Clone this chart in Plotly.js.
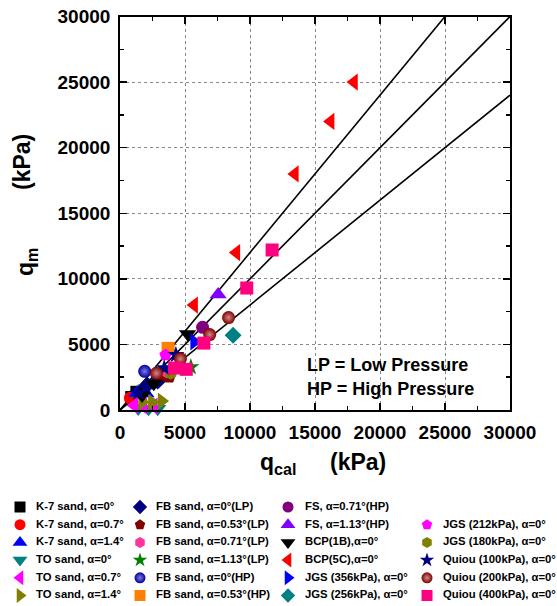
<!DOCTYPE html>
<html><head><meta charset="utf-8">
<script src="https://cdn.plot.ly/plotly-3.0.1.min.js"></script>
<style>html,body{margin:0;padding:0;background:#fff}#c{width:557px;height:606px}</style>
</head><body><div id="c"></div>
<script>
const seriesNames = [
 "K-7 sand, α=0°","K-7 sand, α=0.7°","K-7 sand, α=1.4°","TO sand, α=0°","TO sand, α=0.7°","TO sand, α=1.4°",
 "FB sand, α=0°(LP)","FB sand, α=0.53°(LP)","FB sand, α=0.71°(LP)","FB sand, α=1.13°(LP)","FB sand, α=0°(HP)","FB sand, α=0.53°(HP)",
 "FS, α=0.71°(HP)","FS, α=1.13°(HP)","BCP(1B),α=0°","BCP(5C),α=0°","JGS (356kPa), α=0°","JGS (256kPa), α=0°",
 "JGS (212kPa), α=0°","JGS (180kPa), α=0°","Quiou (100kPa), α=0°","Quiou (200kPa), α=0°","Quiou (400kPa), α=0°"];
const seriesSymbols = ["square","circle","triangle-up","triangle-down","triangle-left","triangle-right",
 "diamond","pentagon","hexagon","star","circle","square",
 "circle","triangle-up","triangle-down","triangle-left","triangle-right","diamond",
 "pentagon","hexagon","star","circle","square"];
const seriesColors = ["#000000","#FF0000","#0000FF","#008080","#FF00FF","#808000",
 "#000080","#800000","#FF3399","#008000","#000099","#FF8000",
 "#800080","#8000FF","#000000","#FF0000","#0000FF","#008080",
 "#FF00FF","#808000","#000080","#800000","#FF0080"];
const sphereSeries = [10, 21];
const seriesX = [
 [900,1300],[800],[1300,2000],[1400,2200,2900],[1100,1800,2600],[1700,2450,3200],
 [2100,2900],[3300,3800],[3600,4900],[5450],[1900],[3700],
 [6350],[7550],[1700,2600,5200],[5700,8950,13450,16200,18000],[5700],[8700],
 [3500],[3900],[1400,3400,4300],[2800,4650,6900,8350],[4200,5100,6450,9750,11700]];
const seriesY = [
 [950,1350],[900],[1300,1250],[120,100,100],[350,300,300],[600,600,680],
 [1900,2200],[2600,2500],[2900,3150],[3270],[2950],[4700],
 [6300],[8800],[1100,2000,5800],[8000,12000,18000,22000,25000],[5200],[5700],
 [4200],[2800],[1300,3200,4200],[2800,3900,5750,7050],[3200,3100,5100,9300,12200]];
const refSlopes = [1.2, 1.0, 0.8];
const axisMax = 30000;
const tickVals = [0,5000,10000,15000,20000,25000,30000];
const tickText = ["0","5000","10000","15000","20000","25000","30000"];

const W=557,H=606, L=120,R=510,T=16.5,B=410;
const FONT="Liberation Sans, Arial, sans-serif";
const traces=[];
refSlopes.forEach(s=>{
  const xe=Math.min(axisMax, axisMax/s);
  traces.push({x:[0,xe],y:[0,s*xe],mode:"lines",line:{color:"#000",width:1.6},showlegend:false,hoverinfo:"skip",cliponaxis:false});
});
function mk(i,size){
  const m={symbol:seriesSymbols[i],color:seriesColors[i],size:size,line:{width:0}};
  if(seriesSymbols[i].startsWith("triangle")) m.size=size+2;
  if(i===21) m.gradient={type:"radial",color:"#d08a8a"};
  if(i===10) m.gradient={type:"radial",color:"#7a7ae6"};
  return m;
}
seriesNames.forEach((n,i)=>{
  traces.push({x:seriesX[i],y:seriesY[i],mode:"markers",name:n,marker:mk(i,13),cliponaxis:false,showlegend:false});
});
// custom legend on pixel-mapped axes
const colMarkX=[20,140,288,427], colTextX=[36,156,305,443];
const rowY0=507, rowStep=17.7;
const lt=[],tx=[],ty=[];
seriesNames.forEach((n,i)=>{
  let col,row;
  if(i<18){col=Math.floor(i/6);row=i%6;} else {col=3;row=i-18+1;}
  const y=rowY0+row*rowStep;
  traces.push({x:[colMarkX[col]],y:[y],xaxis:"x2",yaxis:"y2",mode:"markers",marker:mk(i,11),showlegend:false,hoverinfo:"skip",cliponaxis:false});
  tx.push(colTextX[col]);ty.push(y);lt.push(n);
});
traces.push({x:tx,y:ty,text:lt,mode:"text",textposition:"middle right",xaxis:"x2",yaxis:"y2",
  textfont:{family:FONT,size:11.3,weight:"bold",color:"#000"},showlegend:false,hoverinfo:"skip",cliponaxis:false});

const tf={family:FONT,size:19,weight:"bold",color:"#000"};
const ax={range:[0,axisMax],tickvals:tickVals,ticktext:tickText,tickfont:tf,ticks:"inside",ticklen:7,tickwidth:1.5,tickcolor:"#000",
  showline:true,linecolor:"#000",linewidth:1.8,mirror:"ticks",showgrid:true,gridcolor:"#888",griddash:"dot",gridwidth:1,
  zeroline:false,minor:{dtick:2500,tick0:0,ticks:"inside",ticklen:4,tickcolor:"#000",showgrid:false},fixedrange:true};
const px=v=>v/W, py=v=>1-v/H;
const tt={family:FONT,size:23,weight:"bold",color:"#000"};
const nf={family:FONT,size:18,weight:"bold",color:"#000"};
const layout={
  width:W,height:H,margin:{l:0,r:0,t:0,b:0},paper_bgcolor:"#fff",plot_bgcolor:"#fff",showlegend:false,
  xaxis:Object.assign({},ax,{domain:[L/W,R/W],anchor:"y",ticklabelstandoff:4}),
  yaxis:Object.assign({},ax,{domain:[1-B/H,1-T/H],anchor:"x",ticklabelstandoff:4}),
  xaxis2:{domain:[0,1],range:[0,W],visible:false,anchor:"y2",fixedrange:true},
  yaxis2:{domain:[0,(H-494)/H],range:[H,494],visible:false,anchor:"x2",fixedrange:true},
  annotations:[
    {xref:"paper",yref:"paper",x:px(258),y:py(463),xanchor:"left",yanchor:"middle",text:"q<sub>cal</sub>",showarrow:false,font:tt},
    {xref:"paper",yref:"paper",x:px(328),y:py(462),xanchor:"left",yanchor:"middle",text:"(kPa)",showarrow:false,font:tt},
    {xref:"paper",yref:"paper",x:px(26),y:py(262),xanchor:"center",yanchor:"middle",text:"q<sub>m</sub>",textangle:-90,showarrow:false,font:tt},
    {xref:"paper",yref:"paper",x:px(22),y:py(162),xanchor:"center",yanchor:"middle",text:"(kPa)",textangle:-90,showarrow:false,font:tt},
    {xref:"paper",yref:"paper",x:px(305),y:py(365),xanchor:"left",yanchor:"middle",text:"LP = Low Pressure",showarrow:false,font:nf},
    {xref:"paper",yref:"paper",x:px(305),y:py(389),xanchor:"left",yanchor:"middle",text:"HP = High Pressure",showarrow:false,font:nf}
  ]
};
Plotly.newPlot("c",traces,layout,{staticPlot:true,displayModeBar:false});
</script></body></html>
